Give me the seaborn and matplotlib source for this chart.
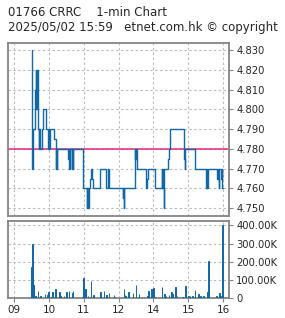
import matplotlib
matplotlib.use("Agg")
import matplotlib.pyplot as plt
import seaborn as sns
import numpy as np

# ---------------- data ----------------
title_line1 = "01766 CRRC    1-min Chart"
title_line2 = "2025/05/02 15:59   etnet.com.hk \u00a9 copyright"
prev_close = 4.780

# price steps: trading minute index (09:00 = 0, lunch 12:00-13:00 removed)
price_t = [30, 31, 32, 33, 35, 36, 37, 38, 39, 40, 41, 42, 43, 44, 48, 50, 54, 58, 59, 60,
           61, 69, 71, 72, 73, 74, 93, 94, 95, 96, 99, 100, 101, 102, 118, 125, 126, 127,
           128, 131, 133, 134, 135, 148, 159, 162, 163, 164, 187, 188, 189, 190, 208, 209,
           210, 211, 228, 229, 230, 243, 254, 255, 256, 257, 258, 259, 266, 267, 269, 293,
           294, 295, 311, 312, 331, 332, 333, 334, 350, 351, 352, 353, 354, 357, 358, 359, 360]
price_v = [4.830, 4.770, 4.780, 4.790, 4.794, 4.810, 4.820, 4.800, 4.820, 4.797, 4.790, 4.780,
           4.790, 4.780, 4.790, 4.800, 4.790, 4.780, 4.790, 4.780,
           4.790, 4.785, 4.770, 4.780, 4.770, 4.780, 4.775, 4.780, 4.770, 4.780, 4.770, 4.780,
           4.770, 4.780, 4.760, 4.750, 4.760, 4.750,
           4.760, 4.765, 4.770, 4.765, 4.760, 4.770, 4.760, 4.770, 4.765, 4.760, 4.755, 4.760,
           4.750, 4.760, 4.780, 4.775,
           4.780, 4.770, 4.760, 4.765, 4.770, 4.760, 4.770, 4.760, 4.770, 4.760, 4.750, 4.770,
           4.775, 4.780, 4.790, 4.775,
           4.770, 4.780, 4.775, 4.770, 4.760, 4.770, 4.760, 4.770, 4.765, 4.770, 4.765, 4.760,
           4.770, 4.765, 4.770, 4.760, 4.760]

# volume per minute (shares)
vol_t = [30, 31, 32, 33, 34, 36, 41, 45, 53, 57, 59, 64, 66, 71, 78, 80, 86, 90, 94, 100,
         101, 118, 119, 121, 123, 127, 132, 137, 149, 155, 159, 163, 172, 174, 189, 191, 192,
         197, 205, 210, 215, 220, 224, 230, 232, 237, 240, 242, 255, 259, 262, 267, 271, 273,
         278, 281, 290, 291, 295, 301, 303, 307, 312, 318, 321, 326, 333, 335, 348, 349, 350,
         354, 356, 359, 360]
vol_v = [170000, 300000, 170000, 73000, 18000, 12000, 40000, 12000, 24000, 18000, 32000, 8000,
         35000, 51000, 35000, 12000, 12000, 37000, 40000, 27000,
         40000, 8000, 113000, 8000, 51000, 12000, 95000, 18000, 35000, 40000, 18000, 29000,
         18000, 8000, 51000, 20000, 12000,
         35000, 29000, 73000, 24000, 8000, 8000, 12000, 40000, 51000, 55000, 8000, 62000, 24000,
         12000, 18000, 35000, 24000,
         62000, 12000, 8000, 8000, 68000, 12000, 15000, 12000, 44000, 24000, 12000, 12000,
         35000, 203000, 8000, 12000, 8000,
         29000, 12000, 401000, 15000]

hour_pos = [0, 60, 120, 180, 240, 300, 360]
hour_labels = ["09", "10", "11", "12", "14", "15", "16"]
price_ticks = [4.750, 4.760, 4.770, 4.780, 4.790, 4.800, 4.810, 4.820, 4.830]
vol_ticks = [0, 100000, 200000, 300000, 400000]
vol_tick_labels = ["0", "100.00K", "200.00K", "300.00K", "400.00K"]

# ---------------- style ----------------
sns.set_style("white")
plt.rcParams['font.family'] = ['DejaVu Sans']
blue = "#1068a6"
magenta = "#e2287c"
spine_c = "#858585"
grid_c = "#bcbcbc"

fig = plt.figure(figsize=(2.85, 3.18), dpi=100)
ax1 = fig.add_axes([0.0291, 0.3208, 0.7755, 0.5449])
ax2 = fig.add_axes([0.0291, 0.0619, 0.7755, 0.2431])

xlim = (-10.5, 371)

# price panel
ax1.axhline(prev_close, color=magenta, lw=1.1, zorder=2)
sns.lineplot(x=price_t, y=price_v, drawstyle="steps-post", ax=ax1, color=blue,
             lw=1.0, estimator=None, zorder=3)
ax1.set_xlim(*xlim)
ax1.set_ylim(4.7461, 4.8337)
ax1.set_yticks(price_ticks)
ax1.set_yticklabels([f"{v:.3f}" for v in price_ticks])
ax1.yaxis.tick_right()
ax1.set_xticks(hour_pos)
ax1.set_xticklabels([])
ax1.tick_params(axis="x", length=0)
ax1.tick_params(axis="y", direction="out", length=3, width=0.8, color=spine_c,
                labelsize=7.2, pad=2, right=True, left=False)
ax1.set_xlabel("")
ax1.set_ylabel("")

# volume panel
sns.histplot(x=vol_t, weights=vol_v, discrete=True, ax=ax2, color=blue, alpha=1,
             edgecolor=blue, linewidth=0.7, zorder=3)
ax2.set_xlim(*xlim)
ax2.set_ylim(0, 424000)
ax2.set_yticks(vol_ticks)
ax2.set_yticklabels(vol_tick_labels)
ax2.yaxis.tick_right()
ax2.set_xticks(hour_pos)
ax2.set_xticklabels(hour_labels)
ax2.tick_params(axis="x", direction="out", length=3, width=0.8, color=spine_c,
                labelsize=7.5, pad=2, bottom=True)
ax2.tick_params(axis="y", direction="out", length=3, width=0.8, color=spine_c,
                labelsize=7.2, pad=2, right=True, left=False)
ax2.set_xlabel("")
ax2.set_ylabel("")

for ax in (ax1, ax2):
    ax.grid(True, color=grid_c, linestyle=(0, (2.2, 2.2)), linewidth=0.8)
    ax.set_axisbelow(True)
    for s in ax.spines.values():
        s.set_color(spine_c)
        s.set_linewidth(1.3)
        s.set_visible(True)

fig.text(8 / 285, 1 - 12 / 318, title_line1, fontsize=8.5, va="center", ha="left")
fig.text(8 / 285, 1 - 28 / 318, title_line2, fontsize=8.5, va="center", ha="left")

fig.savefig("out.png", dpi=100, facecolor="white")
